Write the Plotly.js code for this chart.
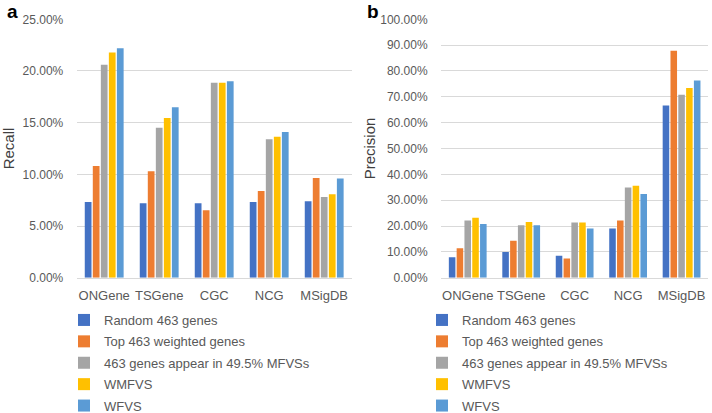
<!DOCTYPE html>
<html>
<head>
<meta charset="utf-8">
<script src="https://cdn.plot.ly/plotly-3.0.1.min.js"></script>
<style>html,body{margin:0;padding:0;background:#fff;}#chart{width:712px;height:413px;}</style>
</head>
<body>
<div id="chart"></div>
<script>
const categories = ['ONGene', 'TSGene', 'CGC', 'NCG', 'MSigDB'];
const seriesNames = ['Random 463 genes', 'Top 463 weighted genes', '463 genes appear in 49.5% MFVSs', 'WMFVS', 'WFVS'];
const seriesColors = ['#4472C4', '#ED7D31', '#A5A5A5', '#FFC000', '#5B9BD5'];

// Recall (%), panel a
const recallRandom = [7.33, 7.20, 7.20, 7.33, 7.40];
const recallTop = [10.80, 10.30, 6.52, 8.40, 9.65];
const recallMFVS = [20.60, 14.50, 18.87, 13.40, 7.80];
const recallWMFVS = [21.80, 15.45, 18.87, 13.63, 8.07];
const recallWFVS = [22.20, 16.50, 19.00, 14.10, 9.60];

// Precision (%), panel b
const precRandom = [7.9, 9.9, 8.5, 19.0, 66.6];
const precTop = [11.4, 14.3, 7.4, 22.1, 87.8];
const precMFVS = [22.1, 20.3, 21.4, 34.9, 70.8];
const precWMFVS = [23.2, 21.6, 21.4, 35.6, 73.4];
const precWFVS = [20.8, 20.3, 19.0, 32.4, 76.3];

const recallSeries = [recallRandom, recallTop, recallMFVS, recallWMFVS, recallWFVS];
const precSeries = [precRandom, precTop, precMFVS, precWMFVS, precWFVS];

const FONT = 'Liberation Sans, Arial, sans-serif';
const TXT = '#595959';
const GRID = '#D9D9D9';

const traces = [];
recallSeries.forEach((vals, i) => {
  traces.push({
    type: 'bar', x: categories, y: vals, name: seriesNames[i],
    marker: {color: seriesColors[i], line: {width: 0}},
    xaxis: 'x', yaxis: 'y', legend: 'legend', legendgroup: 'a' + i,
    hoverinfo: 'skip'
  });
});
precSeries.forEach((vals, i) => {
  traces.push({
    type: 'bar', x: categories, y: vals, name: seriesNames[i],
    marker: {color: seriesColors[i], line: {width: 0}},
    xaxis: 'x2', yaxis: 'y2', legend: 'legend2', legendgroup: 'b' + i,
    hoverinfo: 'skip'
  });
});

const W = 712, H = 413;
const yBottom = 1 - 277.7 / H, yTop = 1 - 19.3 / H;

const xCommon = {
  type: 'category', showgrid: false, zeroline: false,
  showline: true, linecolor: GRID, linewidth: 1,
  ticks: 'outside', ticklen: 6, tickcolor: 'rgba(0,0,0,0)',
  tickfont: {family: FONT, size: 13, color: TXT}, fixedrange: true, automargin: false
};
const yCommon = {
  showgrid: true, gridcolor: GRID, gridwidth: 1, zeroline: false, showline: false,
  ticks: 'outside', ticklen: 10, tickcolor: 'rgba(0,0,0,0)',
  tickfont: {family: FONT, size: 12, color: TXT},
  tickformat: '.2f', ticksuffix: '%', fixedrange: true, automargin: false
};

const legendCommon = {
  orientation: 'v', traceorder: 'grouped', tracegroupgap: 1.5,
  font: {family: FONT, size: 13, color: TXT},
  bgcolor: 'rgba(0,0,0,0)', borderwidth: 0,
  xanchor: 'left', yanchor: 'top', itemclick: false, itemdoubleclick: false
};

const layout = {
  width: W, height: H,
  margin: {l: 0, r: 0, t: 0, b: 0, autoexpand: false},
  paper_bgcolor: '#fff', plot_bgcolor: '#fff',
  barmode: 'group', bargap: 0.27, bargroupgap: 0.16,
  showlegend: true,
  xaxis: Object.assign({}, xCommon, {domain: [76.7 / W, 351.7 / W], anchor: 'y'}),
  yaxis: Object.assign({}, yCommon, {domain: [yBottom, yTop], anchor: 'x', range: [0, 25], dtick: 5,
    title: {text: 'Recall', font: {family: FONT, size: 15, color: '#404040'}, standoff: 8}}),
  xaxis2: Object.assign({}, xCommon, {domain: [441 / W, 708.3 / W], anchor: 'y2'}),
  yaxis2: Object.assign({}, yCommon, {domain: [yBottom, yTop], anchor: 'x2', range: [0, 100], dtick: 10,
    title: {text: 'Precision', font: {family: FONT, size: 15, color: '#404040'}, standoff: 0}}),
  legend: Object.assign({}, legendCommon, {x: 64 / W, y: 1 - 305 / H}),
  legend2: Object.assign({}, legendCommon, {x: 422 / W, y: 1 - 305 / H}),
  annotations: [
    {text: '<b>a</b>', xref: 'paper', yref: 'paper', x: 5 / W, y: 1 - 11 / H, xanchor: 'left', yanchor: 'middle',
     showarrow: false, font: {family: FONT, size: 19, color: '#000'}},
    {text: '<b>b</b>', xref: 'paper', yref: 'paper', x: 365 / W, y: 1 - 11 / H, xanchor: 'left', yanchor: 'middle',
     showarrow: false, font: {family: FONT, size: 19, color: '#000'}}
  ]
};

Plotly.newPlot('chart', traces, layout, {displayModeBar: false, staticPlot: true});
</script>
</body>
</html>
